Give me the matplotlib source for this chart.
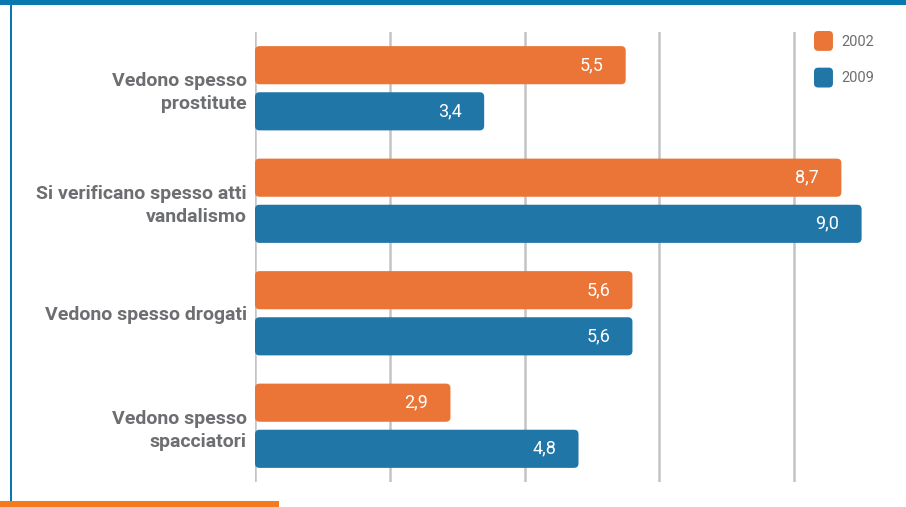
import matplotlib
matplotlib.use("Agg")
import matplotlib.pyplot as plt
from matplotlib.patches import FancyBboxPatch, Rectangle, Patch
from matplotlib.legend_handler import HandlerPatch
from matplotlib import font_manager

categories = ["Vedono spesso\nprostitute", "Si verificano spesso atti\nvandalismo",
              "Vedono spesso drogati", "Vedono spesso\nspacciatori"]
series_names = ["2002", "2009"]
values_2002 = [5.5, 8.7, 5.6, 2.9]
values_2009 = [3.4, 9.0, 5.6, 4.8]
xticks = [0, 2, 4, 6, 8]

names = {f.name for f in font_manager.fontManager.ttflist}
fam = [f for f in ["Liberation Sans Narrow", "DejaVu Sans Condensed", "Roboto", "DejaVu Sans"] if f in names]
plt.rcParams['font.family'] = fam

ORANGE = "#ea7537"
BLUE = "#2176a8"
GRAY = "#6d6e71"
GRID = "#c4c4c6"

W, H = 906, 507
fig = plt.figure(figsize=(W / 100, H / 100), dpi=100)
ax = fig.add_axes([255 / W, 25 / H, (W - 255) / W, 450 / H])

n = len(categories)
centers = [i + 0.5 for i in range(n)]
off = 0.205
bh = 0.339
y2002 = [c - off for c in centers]
y2009 = [c + off for c in centers]

ax.set_xlim(0, (W - 255) / 67.4)
ax.set_ylim(n, 0)

b1 = ax.barh(y2002, values_2002, height=bh, color=ORANGE, label=series_names[0])
b2 = ax.barh(y2009, values_2009, height=bh, color=BLUE, label=series_names[1])

# rounded versions of bars
xu_per_px = ax.get_xlim()[1] / (W - 255)
yu_per_px = n / 450
asp = yu_per_px / xu_per_px
for bars in (b1, b2):
    for r in bars:
        r.set_visible(False)
        x, y = r.get_x(), r.get_y()
        w, h = r.get_width(), r.get_height()
        p = FancyBboxPatch((x, y), w, h,
                           boxstyle=f"round,pad=0,rounding_size={4.5 * xu_per_px}",
                           mutation_aspect=asp, facecolor=r.get_facecolor(),
                           edgecolor="none", zorder=3)
        ax.add_patch(p)

for vals, ys in ((values_2002, y2002), (values_2009, y2009)):
    for v, y in zip(vals, ys):
        ax.annotate(f"{v:.1f}".replace(".", ","), xy=(v, y), xytext=(-16, 0),
                    textcoords="offset points", ha="right", va="center",
                    color="white", fontsize=13, zorder=4)

ax.set_xticks(xticks)
ax.xaxis.grid(True, color=GRID, linewidth=1.8)
ax.set_axisbelow(True)
ax.tick_params(axis="x", length=0, labelbottom=False)
ax.set_yticks(centers)
ax.set_yticklabels(categories, fontsize=14, fontweight="bold", color=GRAY)
ax.tick_params(axis="y", length=0, pad=6)
for t in ax.get_yticklabels():
    t.set_linespacing(1.35)
for s in ax.spines.values():
    s.set_visible(False)
ax.patch.set_visible(False)


def rounded_square(legend, orig_handle, xdescent, ydescent, width, height, fontsize):
    return FancyBboxPatch((-xdescent, -ydescent), width, height,
                          boxstyle="round,pad=0,rounding_size=3")


handles = [Patch(facecolor=ORANGE), Patch(facecolor=BLUE)]
leg = fig.legend(handles, series_names, loc="upper left",
                 bbox_to_anchor=(814 / W, 1 - 31 / H), frameon=False,
                 fontsize=10.5, handlelength=1.3, handleheight=1.72,
                 handletextpad=0.6, labelspacing=1.15, borderpad=0, borderaxespad=0,
                 handler_map={Patch: HandlerPatch(patch_func=rounded_square)})
for t in leg.get_texts():
    t.set_color(GRAY)

# decorative frame
fig.add_artist(Rectangle((0, 1 - 5 / H), 1, 5 / H, transform=fig.transFigure,
                         facecolor="#0a78b0", edgecolor="none"))
fig.add_artist(Rectangle((9.5 / W, 2 / H), 2.2 / W, 1 - 4 / H, transform=fig.transFigure,
                         facecolor="#0a78b0", edgecolor="none"))
fig.add_artist(Rectangle((0, 0), 279 / W, 6 / H, transform=fig.transFigure,
                         facecolor="#f47a20", edgecolor="none"))

fig.savefig("out.png", dpi=100)
